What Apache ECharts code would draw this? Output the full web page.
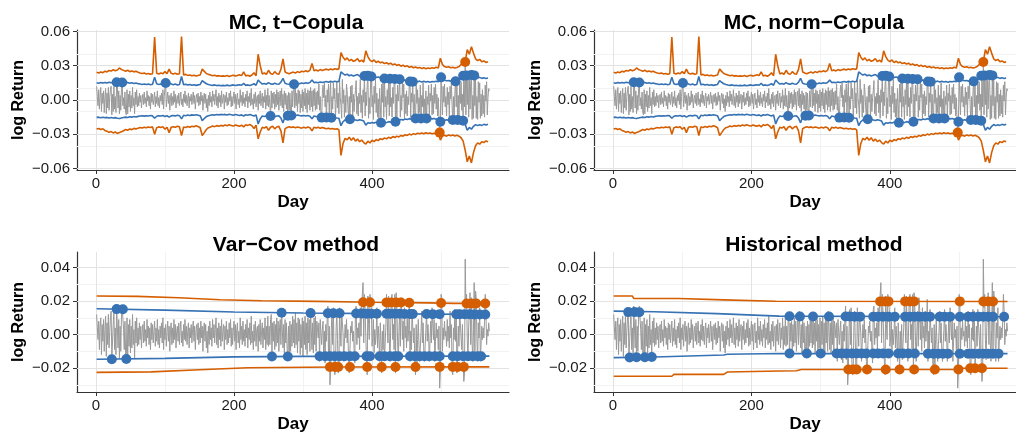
<!DOCTYPE html>
<html><head><meta charset="utf-8">
<script src="https://cdn.jsdelivr.net/npm/echarts@6/dist/echarts.min.js"></script>
<style>html,body{margin:0;padding:0;background:#fff}#c{width:1016px;height:437px}</style>
</head><body><div id="c"></div>
<script>
// ---------- tick labels / titles ----------
const panelTitles = ['MC, t\u2212Copula', 'MC, norm\u2212Copula', 'Var\u2212Cov method', 'Historical method'];
const xTicks = [0, 200, 400];
const xMinor = [100, 300, 500];
const yTicksTop = [-0.06, -0.03, 0, 0.03, 0.06];
const yMinorTop = [-0.045, -0.015, 0.015, 0.045];
const yTicksBot = [-0.02, 0, 0.02, 0.04];
const yMinorBot = [-0.03, -0.01, 0.01, 0.03];

// ---------- daily log returns (units of 0.001), day 1..570 ----------
// top panels (MC portfolio)
const retMC = [
12,3,-5,9,-8,4,11,-10,6,-3,
8,-11,2,10,-12,6,-7,11,-9,3,
9,12,-13,5,-10,12,-8,3,-11,16,
13,-7,8,-12,4,-9,10,16,-5,2,
-8,7,-11,-13,9,-12,5,-6,8,-10,
4,-7,11,-5,2,-12,7,-4,9,-6,
3,-5,6,-2,4,-7,1,5,-4,7,
-3,2,-6,8,-1,4,-5,3,-8,6,
-2,5,-4,1,7,-6,3,-3,8,-5,
2,-7,4,-1,6,-4,9,-8,3,11,
15,-6,1,7,-3,4,-9,2,6,-5,
3,-4,8,-2,5,-7,1,4,-3,6,
-5,2,7,-4,1,-6,5,-2,8,-3,
4,-5,1,6,-7,3,-1,5,-4,2,
7,-3,4,-8,1,5,-2,6,-5,3,
-4,7,-1,4,-9,2,6,-3,5,-7,
1,-10,4,-5,7,-2,3,-6,8,-1,
5,-4,2,9,-5,3,-7,6,-2,4,
-6,8,-3,1,5,-8,4,-2,7,-5,
2,-4,6,-1,8,-6,3,-5,1,7,
-3,5,-8,2,6,-4,1,-7,9,-2,
4,-5,7,-3,2,-6,5,-1,8,-7,
3,-2,6,-5,10,-4,1,-8,5,-3,
7,-6,2,4,-9,5,-3,8,-5,1,
6,-7,3,-2,9,-8,4,-5,10,-6,
4,-5,-15,8,-7,6,-3,7,-8,5,
-6,9,-4,7,-9,3,8,-5,10,-7,
5,-10,8,-4,6,-8,4,-15,7,-9,
6,-9,-14,8,-6,9,14,-7,10,-5,
6,-10,9,-3,8,-11,5,-7,9,-10,
7,-5,10,-8,6,-11,9,-4,8,-9,
11,-6,8,-10,9,-5,10,-9,7,-8,
8,-4,14,-9,3,-13,-18,6,13,2,
15,-6,4,-18,9,-2,14,-13,5,16,
-18,3,-8,15,1,10,-15,-4,16,-7,
6,-12,17,2,-5,-16,18,-3,9,-15,
4,-11,14,7,-6,-15,3,-18,12,-2,
13,-16,5,-10,2,8,17,-12,3,-14,
6,-3,18,-11,4,-16,9,-2,23,-14,
7,-5,13,22,-16,2,-12,18,23,-6,
4,-17,12,-3,18,-11,6,-15,1,-18,
10,-4,-21,14,-2,18,-15,20,-6,3,
-17,9,-4,17,-14,20,-6,2,-15,11,
-3,16,20,-21,5,-16,13,-1,7,20,
-15,4,-9,16,2,14,-16,5,-12,8,
-14,3,-4,15,17,-15,6,-2,17,-16,
5,-12,-18,13,-3,9,-14,2,-11,13,
-17,4,-6,15,-13,1,-15,8,-17,3,
-4,13,-15,6,-1,14,-13,4,-12,11,
-3,14,-8,5,-14,2,-16,-29,-19,21,
5,-13,12,-2,14,-6,3,-14,11,-4,
7,-15,12,1,15,-5,-19,3,-14,6,
17,-6,15,-19,4,-15,14,-3,16,-9,
5,-19,23,-6,34,-13,23,-4,19,-15,
20,-8,16,23,-17,4,-16,23,-5,18,
-16,3,-17,16,-2,15,-16,5,-14,9,
-12,4,-15,13,-1,16,-13,2,10,8
];
// bottom panels (actual portfolio)
const retHist = [
12,4,-3,8,-9,5,10,-12,6,-4,
9,-10,3,11,-13,7,-6,12,-8,2,
10,14,-15,-14,6,13,-9,4,-12,17,
16,-8,9,-14,5,-10,11,17,16,3,
-9,8,-12,-15,10,-15,6,-7,9,-11,
5,-8,12,-6,3,-14,8,-5,10,-7,
4,-6,7,-3,5,-8,2,6,-5,8,
-4,3,-7,9,-2,5,-6,4,-9,7,
-3,6,-5,2,8,-7,4,-4,9,-6,
3,-8,5,-2,7,-5,10,-9,4,-3,
6,-7,2,8,-4,5,-10,3,7,-6,
4,-5,9,-3,6,-8,2,5,-4,7,
-6,3,8,-5,2,-7,6,-3,9,-4,
5,-6,2,7,-8,4,-2,6,-5,3,
8,-4,5,-9,2,6,-3,7,-6,4,
-5,8,-2,5,-10,3,7,-4,6,-8,
2,-11,5,-6,8,-3,4,-7,9,-2,
6,-5,3,10,-6,4,-8,7,-3,5,
-7,9,-4,2,6,-9,5,-3,8,-6,
3,-5,7,-2,9,-7,4,-6,2,8,
-4,6,-9,3,7,-5,2,-8,10,-3,
5,-6,8,-4,3,-7,6,-2,9,-8,
4,-3,7,-6,11,-5,2,-9,6,-4,
8,-7,3,5,-10,6,-4,9,-6,2,
7,-8,4,-3,10,-9,5,-6,11,-7,
5,-6,9,12,-14,7,-4,8,-9,6,
-7,10,-5,8,-10,4,9,-6,14,13,
-8,6,-11,9,-5,7,-9,-14,5,-13,
8,-10,6,-7,11,-5,9,-8,13,-6,
7,-11,10,-4,9,-12,6,-8,10,-13,
8,-6,11,-9,7,-12,10,-5,9,-10,
14,13,-9,7,-11,10,-6,11,-10,8,
4,-2,7,-16,9,1,-6,3,8,-15,
2,-17,6,-4,9,17,-15,5,-30,-22,
3,15,-6,16,-15,-24,-22,4,14,-3,
-23,-21,16,2,-7,13,14,1,-16,-17,
6,-2,9,-5,3,-16,-23,-22,5,1,
8,-4,2,-9,-17,15,17,-6,4,-2,
7,-9,16,-1,17,24,31,-5,24,14,
15,-16,-24,23,6,-3,24,25,16,-7,
-2,9,-11,3,-6,1,16,-8,5,-3,
-16,7,-4,-23,2,-9,6,-15,-14,4,
24,23,-5,23,-2,-16,-15,22,24,-3,
6,-9,24,-23,25,16,-4,-16,2,14,
-7,22,15,-3,8,-10,16,-2,5,-8,
14,-4,3,21,-16,2,-9,15,16,-5,
4,-17,-24,6,-22,-3,9,-6,-16,-15,
2,14,-5,7,-10,-16,-15,3,15,-4,
6,-2,-16,-15,8,-5,16,15,-3,9,
-16,-4,7,-2,3,-9,5,-32,-22,24,
22,-10,4,-3,8,-1,2,-7,9,-4,
5,-8,14,-2,6,-22,-24,4,-3,15,
-4,14,-23,-22,5,-7,15,14,-2,-9,
6,-16,-28,-23,45,16,24,-3,-15,4,
16,25,-6,22,-5,-16,3,31,-14,26,
22,-4,-16,7,-2,16,-16,-15,5,-3,
4,-2,8,24,15,-6,3,-1,7,2
];

// ---------- MC VaR estimates (units of 0.001), every 3rd day from day 1 ----------
const mcUp99 = [
24.2,23.6,24.4,23.9,25.1,24.6,25.8,25.3,26.4,25.6,26.2,28.0,26.6,25.9,
25.2,26.0,24.8,25.3,24.6,25.1,24.2,23.6,23.1,23.5,22.8,23.2,22.6,23.0,
55.0,
23.4,22.8,23.6,22.9,24.8,23.1,27.0,23.3,22.7,23.4,22.5,22.9,
55.5,
21.8,22.4,21.5,21.9,21.2,21.7,21.0,21.4,21.8,
27.0,
25.0,23.2,22.4,21.8,21.2,21.6,20.9,21.3,20.7,21.1,20.8,21.4,20.6,21.2,21.7,20.9,21.5,22.1,21.3,
24.5,21.0,21.6,20.8,21.8,23.8,21.2,
40.0,
30.0,22.8,23.6,22.5,26.0,23.2,22.4,24.8,23.0,22.6,26.8,
36.0,
24.5,23.6,23.0,23.8,24.4,23.5,24.8,24.0,25.2,24.6,25.5,24.8,25.9,
32.0,
25.6,26.2,25.4,26.6,25.8,26.4,27.0,26.2,27.2,26.5,27.4,26.8,27.2,
41.5,
37.5,35.0,36.8,34.2,35.5,33.8,34.6,36.2,33.5,34.8,33.2,
43.0,
38.0,34.8,33.6,35.0,32.8,33.9,32.5,33.2,31.8,32.6,31.4,32.2,30.8,
31.5,30.2,31.0,29.6,30.4,29.2,29.9,28.6,29.3,28.2,28.8,27.9,28.5,27.6,28.3,27.4,28.0,27.5,28.2,27.8,28.6,28.0,
36.5,
31.0,29.2,28.6,29.0,28.2,28.7,28.0,28.5,29.2,
31.0,32.5,33.5,44.0,40.0,46.5,41.0,
36.0,34.5,35.5,33.5,34.2,32.8,33.5
];
const mcUp95 = [
15.0,14.6,15.2,14.8,15.3,14.9,15.5,15.1,15.6,15.2,15.8,16.2,15.6,15.3,
15.0,15.4,14.7,15.1,14.5,14.9,14.3,14.0,13.6,14.0,13.5,13.9,13.4,13.8,
20.0,
14.2,13.6,14.0,13.5,14.6,13.8,15.2,13.9,13.4,13.9,13.2,13.6,
20.5,
13.3,13.8,13.1,13.5,12.9,13.3,12.8,13.2,13.6,
17.0,
15.5,14.2,13.6,13.1,12.8,13.2,12.6,12.9,12.4,12.8,12.5,13.0,12.4,12.8,13.2,12.6,13.0,13.4,12.9,
14.5,12.8,13.2,12.6,13.3,14.2,12.9,
17.5,
15.5,13.9,14.4,13.8,15.2,14.1,13.7,14.6,14.0,13.8,15.6,
19.0,
14.6,14.0,13.7,14.1,14.5,13.9,14.6,14.2,14.9,14.5,15.1,14.7,15.3,
17.5,
15.2,15.6,15.1,15.8,15.3,15.7,16.1,15.6,16.3,15.8,16.4,16.0,16.3,
24.5,
23.0,21.8,22.6,21.2,21.9,21.0,21.6,22.2,20.9,21.5,20.8,
24.0,
22.0,20.8,20.2,21.0,19.6,20.1,19.4,19.0,18.6,19.2,18.4,18.9,18.2,
18.6,17.8,18.2,17.4,17.9,17.0,17.5,16.6,16.9,16.3,16.8,16.0,16.5,15.8,16.3,15.7,16.1,15.6,16.2,15.9,16.4,16.0,
20.5,
18.0,17.2,16.8,17.1,16.5,16.9,16.3,16.8,17.6,
19.5,21.2,21.5,22.0,21.4,21.8,21.5,
20.0,19.2,19.8,18.9,19.4,18.8,19.2
];
const mcLo95 = [
-15.2,-15.0,-15.5,-15.1,-15.6,-15.2,-15.8,-15.3,-15.7,-15.4,-15.9,-16.2,-15.7,-15.3,
-15.0,-15.3,-14.7,-15.0,-14.5,-14.8,-14.3,-14.0,-13.8,-14.1,-13.7,-14.0,-13.6,-13.9,
-16.0,
-14.2,-13.7,-14.0,-13.6,-14.5,-13.8,-15.0,-13.9,-13.5,-13.9,-13.3,-13.7,
-16.5,
-13.4,-13.8,-13.2,-13.6,-13.0,-13.4,-12.9,-13.3,-13.8,
-18.0,
-16.2,-14.5,-13.8,-13.3,-12.9,-13.2,-12.7,-13.0,-12.6,-12.9,-12.6,-13.1,-12.5,-12.9,-13.3,-12.7,-13.1,-13.5,-13.0,
-14.0,-12.9,-13.3,-12.7,-13.4,-14.0,-13.0,
-21.0,
-16.5,-14.0,-14.4,-13.8,-15.0,-14.1,-13.8,-14.6,-14.0,-13.9,-15.8,
-20.0,
-14.4,-13.9,-13.6,-14.0,-13.4,-13.8,-13.2,-13.6,-13.9,-13.5,-14.0,-13.6,-14.2,
-16.5,
-14.0,-14.5,-15.0,-15.4,-15.2,-15.6,-15.3,-15.5,-15.2,-15.6,-15.4,-15.8,-16.0,
-22.5,
-19.0,-17.4,-17.9,-16.9,-17.5,-16.8,-17.4,-18.0,-17.2,-17.8,-18.4,
-22.0,
-19.8,-20.4,-19.6,-20.2,-19.5,-20.1,-19.4,-19.9,-19.2,-19.8,-18.9,-19.5,-18.6,
-19.0,-18.2,-17.6,-17.0,-17.4,-16.6,-17.0,-16.3,-16.8,-16.1,-16.6,-15.9,-16.4,-15.8,-16.2,-15.7,-16.3,-15.9,-16.5,-16.1,-16.8,-16.4,
-22.0,
-18.6,-17.8,-17.3,-17.8,-17.2,-17.7,-17.1,-17.6,-18.0,
-19.0,-18.4,-21.5,-26.5,-24.0,-25.5,-23.0,
-21.5,-22.4,-21.6,-22.2,-21.3,-21.9,-21.2
];
const mcLo99 = [
-25.4,-24.9,-25.8,-25.2,-26.6,-27.4,-28.3,-27.6,-28.8,-28.0,-29.2,-28.5,-27.8,-26.9,
-25.8,-26.4,-25.3,-25.9,-24.8,-25.4,-24.6,-24.0,-24.5,-23.8,-24.3,-23.6,-24.1,-23.5,
-30.0,
-24.2,-23.5,-24.0,-23.4,-25.5,-23.8,-28.5,-23.9,-23.3,-23.8,-23.0,-23.5,
-31.0,
-23.6,-24.0,-23.2,-23.8,-22.9,-23.4,-22.6,-23.2,-24.2,
-31.0,
-28.5,-25.8,-24.2,-23.6,-22.8,-23.3,-22.4,-22.9,-22.2,-22.7,-21.9,-22.5,-21.6,-22.2,-22.8,-21.8,-22.4,-22.9,-22.0,
-23.5,-21.6,-22.2,-21.4,-22.6,-25.0,-22.0,
-34.0,
-28.0,-23.8,-24.6,-23.2,-26.5,-23.8,-23.0,-25.2,-23.6,-23.0,-27.0,
-37.5,
-25.0,-24.0,-23.4,-24.1,-23.5,-24.2,-23.6,-24.0,-24.6,-23.8,-24.4,-23.7,-24.3,
-27.0,
-23.8,-24.5,-23.9,-24.8,-24.1,-24.6,-25.2,-24.6,-25.4,-24.9,-25.6,-25.1,-26.0,
-48.5,
-38.0,-33.5,-34.8,-32.6,-35.2,-33.0,-36.0,-34.2,-36.5,-35.0,-37.2,
-38.5,
-36.0,-37.6,-35.2,-36.4,-34.6,-35.5,-33.8,-34.6,-33.2,-34.0,-32.6,-33.5,-32.0,
-32.8,-31.6,-32.3,-31.0,-31.6,-30.4,-31.0,-29.8,-30.5,-29.4,-30.1,-29.0,-29.6,-28.8,-29.5,-28.6,-29.3,-28.8,-29.6,-29.0,-29.8,-28.5,
-35.0,
-31.5,-30.8,-31.6,-30.5,-31.2,-30.6,-31.4,-30.8,-31.6,
-33.0,-36.0,-44.0,-54.0,-49.0,-55.0,-46.0,
-40.0,-37.5,-38.6,-36.4,-37.2,-35.8,-36.5
];
// MC exceedances [day, VaR]
const mcUp95Hits = [[30,15.5],[38,15.3],[101,14.9],[287,13.8],[389,21.0],[394,21.3],[399,20.6],[418,18.8],[426,18.6],[433,18.4],[440,18.1],[455,16.2],[459,16.0],[500,19.8],[521,16.3],[532,21.2],[537,21.5],[544,21.8],[548,21.5]];
const mcLo95Hits = [[253,-14.0],[278,-13.8],[283,-13.6],[327,-15.4],[334,-15.3],[341,-15.5],[368,-16.9],[413,-19.9],[434,-19.0],[463,-16.1],[471,-16.1],[479,-16.2],[499,-19.0],[517,-17.5],[524,-17.4],[532,-18.2]];
const mcUp99Hits = [[535,33.2]];
const mcLo99Hits = [[498,-28.5]];

// ---------- Var-Cov VaR (units of 0.001) ----------
const vcUp99 = [[1,23.0],[60,22.8],[120,22.0],[180,20.8],[240,20.2],[320,19.8],[400,19.3],[480,18.9],[520,18.6],[570,18.6]];
const vcUp95 = [[1,15.4],[100,14.6],[200,13.5],[300,12.9],[400,12.5],[570,12.0]];
const vcLo95 = [[1,-14.7],[100,-14.2],[200,-13.3],[300,-13.0],[570,-12.9]];
const vcLo99 = [[1,-22.6],[80,-22.3],[150,-21.0],[220,-19.8],[350,-19.4],[570,-19.3]];
const vcUp95Hits = [[30,15.2],[39,15.1],[269,13.0],[311,12.8],[336,12.7],[344,12.7],[353,12.7],[377,12.6],[385,12.6],[392,12.5],[399,12.5],[407,12.5],[421,12.4],[426,12.4],[433,12.4],[440,12.4],[447,12.3],[455,12.3],[459,12.3],[479,12.3],[488,12.2],[498,12.2],[522,12.1],[527,12.1],[534,12.1],[541,12.1],[548,12.0],[556,12.0],[564,12.0]];
const vcLo95Hits = [[23,-14.7],[44,-14.6],[255,-13.1],[278,-13.1],[324,-13.0],[332,-13.0],[339,-13.0],[346,-13.0],[353,-13.0],[360,-13.0],[368,-13.0],[375,-13.0],[392,-13.0],[397,-13.0],[411,-13.0],[418,-13.0],[426,-13.0],[433,-13.0],[438,-13.0],[455,-12.9],[462,-12.9],[469,-12.9],[476,-12.9],[483,-12.9],[491,-12.9],[498,-12.9],[517,-12.9],[524,-12.9],[532,-12.9],[539,-12.9],[546,-12.9],[553,-12.9],[558,-12.9]];
const vcUp99Hits = [[387,19.3],[397,19.3],[421,19.2],[428,19.2],[435,19.1],[442,19.1],[454,19.0],[500,18.8],[537,18.6],[544,18.6],[551,18.6],[564,18.6]];
const vcLo99Hits = [[339,-19.4],[346,-19.4],[351,-19.4],[368,-19.4],[393,-19.4],[414,-19.4],[434,-19.4],[463,-19.4],[498,-19.3],[517,-19.3],[524,-19.3],[533,-19.3]];

// ---------- Historical VaR (units of 0.001) ----------
const hUp99 = [[1,23.0],[28,23.0],[30,21.6],[95,21.5],[160,20.7],[235,19.9],[570,19.7]];
const hUp95 = [[1,14.0],[60,13.6],[150,12.5],[240,11.0],[570,10.6]];
const hLo95 = [[1,-13.8],[60,-13.4],[160,-12.2],[165,-11.8],[240,-11.3],[570,-11.4]];
const hLo99 = [[1,-24.9],[85,-24.9],[88,-23.8],[160,-23.8],[165,-22.4],[240,-21.8],[265,-21.6],[272,-20.9],[495,-20.8],[505,-20.1],[570,-20.1]];
const hUp95Hits = [[22,13.4],[31,13.4],[38,13.3],[255,10.9],[270,10.8],[289,10.8],[312,10.8],[336,10.8],[342,10.8],[349,10.7],[357,10.7],[376,10.7],[383,10.7],[390,10.7],[398,10.7],[407,10.7],[422,10.7],[429,10.7],[436,10.7],[443,10.7],[451,10.7],[458,10.7],[472,10.7],[479,10.7],[487,10.7],[501,10.6],[513,10.6],[520,10.6],[528,10.6],[535,10.6],[542,10.6],[549,10.6],[565,10.6]];
const hLo95Hits = [[24,-13.7],[34,-13.6],[46,-13.5],[56,-13.4],[255,-11.3],[280,-11.3],[300,-11.3],[323,-11.3],[330,-11.3],[337,-11.3],[345,-11.3],[352,-11.3],[359,-11.3],[366,-11.3],[376,-11.3],[383,-11.3],[390,-11.3],[398,-11.3],[412,-11.3],[419,-11.3],[427,-11.3],[436,-11.3],[455,-11.4],[463,-11.4],[470,-11.4],[477,-11.4],[484,-11.4],[501,-11.4],[513,-11.4],[520,-11.4],[528,-11.4],[535,-11.4],[542,-11.4],[549,-11.4],[557,-11.4]];
const hUp99Hits = [[386,19.8],[393,19.8],[398,19.8],[422,19.8],[429,19.8],[435,19.8],[501,19.8],[535,19.7],[542,19.7],[549,19.7]];
const hLo99Hits = [[340,-20.9],[347,-20.9],[352,-20.9],[367,-20.9],[394,-20.9],[414,-20.9],[435,-20.9],[465,-20.9],[499,-20.8],[516,-20.1],[523,-20.1],[533,-20.1]];

// ---------- styling ----------
const GREY = '#999999', BLUE = '#3672B4', ORANGE = '#D55E00';
const FONT = 'Liberation Sans';
const grids = [
  {left: 77, top: 30, width: 432, height: 140},
  {left: 594, top: 30, width: 422, height: 140},
  {left: 77, top: 252, width: 432, height: 140},
  {left: 594, top: 252, width: 422, height: 140}
];
const xRange = [[-27.45, 598.45], [-27.45, 582.2], [-27.45, 598.45], [-27.45, 582.2]];
const yRange = [[-0.0612, 0.0612], [-0.0612, 0.0612], [-0.0343, 0.0493], [-0.0343, 0.0493]];
const titleX = [291, 809, 291, 809];
const titleY = [8, 8, 230, 230];

const k = v => v / 1000;
const daily = arr => arr.map((v, i) => [i + 1, k(v)]);
const every3 = arr => arr.map((v, i) => [1 + 3 * i, k(v)]);
const pairs = arr => arr.map(p => [p[0], k(p[1])]);
const fmtY = v => { const s = Math.abs(v).toFixed(2); return v < -1e-9 ? '\u2212' + s : s; };

const panels = [
  {ret: retMC, lines: [every3(mcUp95), every3(mcLo95), every3(mcUp99), every3(mcLo99)],
   hits: [pairs(mcUp95Hits), pairs(mcLo95Hits), pairs(mcUp99Hits), pairs(mcLo99Hits)], top: true},
  {ret: retMC, lines: [every3(mcUp95), every3(mcLo95), every3(mcUp99), every3(mcLo99)],
   hits: [pairs(mcUp95Hits), pairs(mcLo95Hits), pairs(mcUp99Hits), pairs(mcLo99Hits)], top: true},
  {ret: retHist, lines: [pairs(vcUp95), pairs(vcLo95), pairs(vcUp99), pairs(vcLo99)],
   hits: [pairs(vcUp95Hits), pairs(vcLo95Hits), pairs(vcUp99Hits), pairs(vcLo99Hits)], top: false},
  {ret: retHist, lines: [pairs(hUp95), pairs(hLo95), pairs(hUp99), pairs(hLo99)],
   hits: [pairs(hUp95Hits), pairs(hLo95Hits), pairs(hUp99Hits), pairs(hLo99Hits)], top: false}
];

const xAxis = [], yAxis = [], series = [], title = [];
panels.forEach((p, g) => {
  const yT = p.top ? yTicksTop : yTicksBot, yM = p.top ? yMinorTop : yMinorBot;
  title.push({text: panelTitles[g], left: titleX[g], top: titleY[g], textAlign: 'center',
    textStyle: {fontFamily: FONT, fontWeight: 'bold', fontSize: 21, color: '#000'}});
  xAxis.push({type: 'value', gridIndex: g, min: xRange[g][0], max: xRange[g][1],
    name: 'Day', nameLocation: 'middle', nameGap: 24,
    nameTextStyle: {fontFamily: FONT, fontWeight: 'bold', fontSize: 17, color: '#000'},
    axisLine: {show: true, onZero: false, lineStyle: {color: '#333', width: 1.2}},
    axisTick: {show: true, length: 4, customValues: xTicks, lineStyle: {color: '#333'}},
    axisLabel: {customValues: xTicks, margin: 6, fontFamily: FONT, fontSize: 15, color: '#1a1a1a'},
    splitLine: {show: false}, minorTick: {show: false}});
  yAxis.push({type: 'value', gridIndex: g, min: yRange[g][0], max: yRange[g][1],
    name: 'log Return', nameLocation: 'middle', nameGap: 50, nameRotate: 90,
    nameTextStyle: {fontFamily: FONT, fontWeight: 'bold', fontSize: 16, color: '#000'},
    axisLine: {show: true, onZero: false, lineStyle: {color: '#333', width: 1.2}},
    axisTick: {show: true, length: 4, customValues: yT, lineStyle: {color: '#333'}},
    axisLabel: {customValues: yT, margin: 7, fontFamily: FONT, fontSize: 15, color: '#1a1a1a', formatter: fmtY},
    splitLine: {show: false}, minorTick: {show: false}});
  // grid lines
  const gl = [];
  yM.forEach(v => gl.push({yAxis: v, lineStyle: {color: '#F2F2F2', width: 1, type: 'solid'}}));
  xMinor.forEach(v => gl.push({xAxis: v, lineStyle: {color: '#F2F2F2', width: 1, type: 'solid'}}));
  yT.forEach(v => gl.push({yAxis: v, lineStyle: {color: '#E3E3E3', width: 1, type: 'solid'}}));
  xTicks.forEach(v => gl.push({xAxis: v, lineStyle: {color: '#E3E3E3', width: 1, type: 'solid'}}));
  series.push({type: 'line', xAxisIndex: g, yAxisIndex: g, data: daily(p.ret), showSymbol: false,
    lineStyle: {color: GREY, width: 1}, z: 2, silent: true,
    markLine: {silent: true, symbol: ['none', 'none'], label: {show: false}, z: 1, animation: false, data: gl}});
  const cols = [BLUE, BLUE, ORANGE, ORANGE];
  p.lines.forEach((d, j) => series.push({type: 'line', xAxisIndex: g, yAxisIndex: g, data: d, showSymbol: false,
    lineStyle: {color: cols[j], width: 1.6}, z: 3, silent: true}));
  p.hits.forEach((d, j) => series.push({type: 'scatter', xAxisIndex: g, yAxisIndex: g, data: d,
    symbolSize: 10, itemStyle: {color: cols[j], opacity: 1}, z: 4, silent: true}));
});

const chart = echarts.init(document.getElementById('c'), null, {renderer: 'canvas'});
chart.setOption({animation: false, backgroundColor: '#fff', title, grid: grids, xAxis, yAxis, series});
</script></body></html>
